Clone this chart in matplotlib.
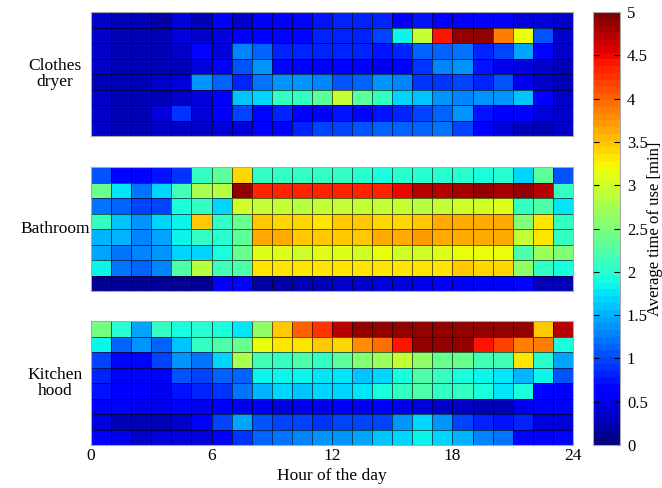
import matplotlib.pyplot as plt
import numpy as np

# average time of use [min], rows top -> bottom, columns = hour 0..23
dryer = [
    [0.35, 0.3, 0.25, 0.2, 0.4, 0.3, 0.6, 0.35, 0.6, 0.6, 0.7, 0.75, 0.85, 0.85, 0.8, 0.6, 0.75, 0.6, 0.6, 0.55, 0.6, 0.45, 0.4, 0.35],
    [0.35, 0.3, 0.25, 0.3, 0.4, 0.35, 0.45, 0.6, 0.6, 0.7, 0.7, 0.8, 0.85, 0.85, 1.0, 1.85, 2.95, 4.4, 4.85, 4.85, 3.9, 3.15, 1.05, 0.35],
    [0.35, 0.3, 0.3, 0.3, 0.35, 0.7, 0.45, 1.25, 1.1, 0.85, 0.85, 0.85, 0.85, 0.85, 0.75, 0.85, 1.1, 1.15, 1.2, 0.85, 0.95, 1.45, 0.65, 0.35],
    [0.35, 0.3, 0.3, 0.25, 0.3, 0.4, 0.6, 1.05, 1.35, 0.65, 0.6, 0.55, 0.6, 0.6, 0.5, 0.6, 0.9, 1.3, 1.35, 0.75, 0.5, 0.45, 0.35, 0.3],
    [0.3, 0.3, 0.3, 0.35, 0.45, 1.4, 1.15, 0.8, 1.2, 1.35, 1.35, 1.25, 1.05, 1.15, 1.35, 1.3, 0.9, 0.9, 1.0, 0.85, 1.05, 0.5, 0.35, 0.3],
    [0.35, 0.3, 0.3, 0.3, 0.35, 0.4, 0.6, 1.6, 1.7, 2.1, 2.1, 2.3, 2.95, 2.3, 2.1, 1.7, 1.6, 1.35, 1.3, 1.35, 1.35, 1.6, 0.55, 0.35],
    [0.35, 0.3, 0.3, 0.4, 0.9, 0.45, 0.6, 1.0, 0.65, 0.85, 0.6, 0.55, 0.75, 0.65, 0.75, 0.85, 0.95, 1.15, 1.35, 0.75, 0.55, 0.55, 0.45, 0.35],
    [0.35, 0.3, 0.3, 0.35, 0.35, 0.35, 0.4, 0.4, 0.6, 0.6, 0.8, 1.0, 0.95, 1.05, 1.15, 1.15, 1.15, 1.2, 0.95, 0.6, 0.4, 0.3, 0.3, 0.35],
]
bathroom = [
    [1.05, 0.65, 0.7, 0.75, 0.9, 2.1, 2.3, 3.4, 2.05, 2.05, 2.05, 2.05, 2.05, 2.0, 1.9, 2.0, 2.0, 2.0, 2.0, 1.95, 2.0, 1.7, 2.3, 1.05],
    [2.4, 1.75, 1.2, 1.7, 2.15, 2.75, 2.85, 4.9, 4.3, 4.35, 4.35, 4.3, 4.3, 4.3, 4.35, 4.5, 4.7, 4.7, 4.8, 4.85, 4.8, 4.85, 4.7, 2.1],
    [1.2, 1.1, 1.0, 0.95, 1.9, 2.1, 1.7, 3.0, 2.9, 2.95, 2.85, 2.95, 2.95, 2.95, 2.9, 2.9, 2.85, 2.95, 3.0, 3.0, 3.05, 2.05, 2.25, 1.75],
    [2.05, 1.6, 1.35, 1.7, 1.8, 3.5, 2.1, 2.35, 3.5, 3.4, 3.4, 3.35, 3.45, 3.45, 3.4, 3.4, 3.45, 3.6, 3.65, 3.6, 3.6, 2.5, 3.3, 2.05],
    [1.55, 1.5, 1.25, 1.45, 1.85, 2.05, 2.0, 2.3, 3.6, 3.65, 3.5, 3.45, 3.45, 3.5, 3.6, 3.6, 3.7, 3.65, 3.6, 3.6, 3.65, 2.95, 3.3, 2.05],
    [1.45, 1.2, 1.25, 1.4, 1.7, 1.7, 1.9, 2.4, 3.05, 3.05, 3.0, 3.05, 3.05, 3.0, 3.15, 3.0, 3.0, 3.1, 3.15, 3.15, 3.15, 2.2, 2.7, 2.5],
    [1.85, 1.2, 1.15, 1.25, 2.2, 2.85, 2.15, 2.2, 3.35, 3.3, 3.3, 3.3, 3.3, 3.35, 3.3, 3.3, 3.3, 3.35, 3.45, 3.4, 3.4, 2.65, 2.05, 1.9],
    [0.1, 0.1, 0.1, 0.1, 0.15, 0.15, 0.6, 0.65, 0.2, 0.2, 0.25, 0.3, 0.35, 0.35, 0.4, 0.4, 0.5, 0.55, 0.6, 0.6, 0.6, 0.7, 0.3, 0.25],
]
kitchen = [
    [2.45, 2.0, 1.45, 2.05, 1.9, 2.0, 1.95, 1.75, 2.65, 3.45, 4.0, 4.25, 4.7, 4.85, 4.85, 4.85, 4.9, 4.9, 4.9, 4.9, 4.85, 4.85, 3.45, 4.7],
    [1.8, 1.1, 1.35, 1.15, 1.6, 2.1, 2.2, 2.35, 3.15, 3.35, 3.35, 3.45, 3.4, 3.75, 3.95, 4.4, 4.85, 4.85, 4.85, 4.4, 4.2, 3.9, 3.85, 1.95],
    [1.0, 0.65, 0.65, 0.95, 1.35, 1.2, 1.7, 2.75, 2.15, 2.1, 2.25, 2.1, 2.3, 2.5, 2.7, 2.95, 2.6, 2.35, 2.35, 2.15, 2.15, 3.35, 2.0, 1.45],
    [0.85, 0.6, 0.6, 0.55, 1.05, 1.0, 1.15, 1.1, 1.85, 1.85, 1.8, 1.75, 1.75, 1.6, 1.7, 1.9, 2.2, 2.1, 1.9, 1.8, 1.75, 1.55, 1.8, 1.05],
    [0.75, 0.6, 0.55, 0.5, 0.75, 0.85, 0.9, 1.2, 1.5, 1.7, 1.6, 1.65, 1.65, 1.75, 1.9, 2.05, 2.2, 2.1, 2.1, 1.9, 1.75, 1.95, 0.7, 0.6],
    [0.6, 0.55, 0.5, 0.5, 0.55, 0.5, 0.55, 0.5, 0.5, 0.45, 0.5, 0.5, 0.55, 0.5, 0.55, 0.5, 0.4, 0.35, 0.35, 0.3, 0.25, 0.5, 0.55, 0.6],
    [0.45, 0.25, 0.25, 0.3, 0.35, 0.55, 0.95, 1.45, 1.05, 1.0, 1.0, 0.9, 1.0, 1.0, 0.95, 1.4, 1.65, 1.4, 1.0, 0.85, 0.75, 0.8, 0.45, 0.45],
    [0.6, 0.5, 0.35, 0.4, 0.4, 0.45, 0.6, 0.9, 1.15, 1.2, 1.3, 1.35, 1.35, 1.45, 1.6, 1.7, 1.8, 1.7, 1.5, 1.3, 1.2, 0.65, 0.55, 0.65],
]
labels = ['Clothes\ndryer', 'Bathroom', 'Kitchen\nhood']
xticks = [0, 6, 12, 18, 24]

plt.rcParams['font.family'] = 'Liberation Serif'
plt.rcParams['font.size'] = 12.5

fig = plt.figure(figsize=(6.62, 4.88), dpi=100)
cmap = plt.get_cmap('jet', 64)
bottoms = [0.7213, 0.4037, 0.0881]
hours = np.arange(25)

for k, (data, lab) in enumerate(zip([dryer, bathroom, kitchen], labels)):
    ax = fig.add_axes([0.1375, bottoms[k], 0.728, 0.254])
    arr = np.array(data)
    rows = np.arange(arr.shape[0] + 1)
    m = ax.pcolormesh(hours, rows, arr, cmap=cmap, vmin=0, vmax=5,
                      edgecolors=(0, 0, 0, 0.6), linewidth=0.7)
    ax.set_xlim(0, 24)
    ax.set_ylim(arr.shape[0], 0)
    ax.set_yticks([])
    ax.set_ylabel(lab, rotation=0, ha='center', va='center', labelpad=26,
                  linespacing=1.0)
    for s in ax.spines.values():
        s.set_color('#aaaaaa')
    if k == 2:
        ax.set_xticks(xticks)
        ax.tick_params(axis='x', direction='in', length=0, pad=2)
        ax.set_xlabel('Hour of the day', labelpad=3)
    else:
        ax.set_xticks([])

cax = fig.add_axes([0.8958, 0.0881, 0.0408, 0.887])
cb = fig.colorbar(m, cax=cax, ticks=np.arange(0, 5.01, 0.5))
cb.ax.set_yticklabels(['0', '0.5', '1', '1.5', '2', '2.5', '3', '3.5', '4', '4.5', '5'])
cb.ax.tick_params(direction='in', length=4, left=True, pad=5, labelsize=12)
cb.outline.set_edgecolor('#aaaaaa')
cax.text(2.3, 0.5, 'Average time of use [min]', rotation=90, fontsize=12,
         ha='center', va='center', transform=cax.transAxes)

fig.savefig('out.png', dpi=100)
